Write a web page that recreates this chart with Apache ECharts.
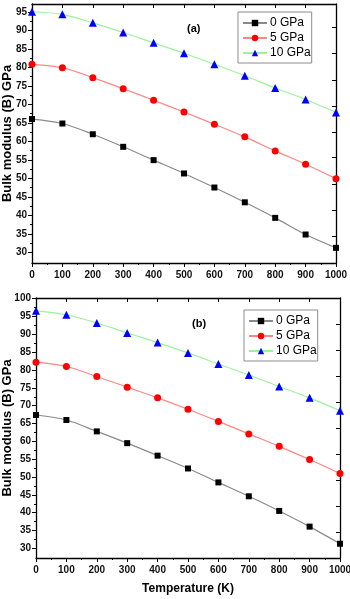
<!DOCTYPE html>
<html>
<head>
<meta charset="utf-8">
<script src="https://cdn.jsdelivr.net/npm/echarts@6/dist/echarts.min.js"></script>
<style>
html, body { margin: 0; padding: 0; background: #fff; }
#main { width: 350px; height: 599px; }
</style>
</head>
<body>
<div id="main"></div>
<script>
var temps = [0, 100, 200, 300, 400, 500, 600, 700, 800, 900, 1000];
var names = ['0 GPa', '5 GPa', '10 GPa'];

// panel (a)
var a0 = [66.0, 64.8, 61.9, 58.5, 54.9, 51.3, 47.5, 43.5, 39.3, 34.8, 31.2];
var a5 = [80.8, 79.9, 77.2, 74.2, 71.1, 67.9, 64.6, 61.2, 57.4, 53.8, 49.9];
var a10 = [95.0, 94.3, 92.0, 89.4, 86.6, 83.8, 80.8, 77.7, 74.4, 71.3, 67.8];
var yTicksA = [30, 35, 40, 45, 50, 55, 60, 65, 70, 75, 80, 85, 90, 95];
var yMinorA = [32.5, 37.5, 42.5, 47.5, 52.5, 57.5, 62.5, 67.5, 72.5, 77.5, 82.5, 87.5, 92.5];
var rightTicksA = [90.7, 83.8, 76.5, 69.5, 62.4, 55.6, 48.4, 41.4, 34.4];

// panel (b)
var b0 = [67.4, 66.0, 62.8, 59.5, 56.0, 52.4, 48.5, 44.6, 40.5, 36.1, 31.3];
var b5 = [82.2, 81.0, 78.2, 75.2, 72.2, 69.0, 65.6, 62.1, 58.6, 54.9, 51.0];
var b10 = [96.6, 95.5, 93.2, 90.4, 87.7, 84.8, 81.7, 78.6, 75.4, 72.2, 68.6];
var yTicksB = [30, 35, 40, 45, 50, 55, 60, 65, 70, 75, 80, 85, 90, 95, 100];
var yMinorB = [32.5, 37.5, 42.5, 47.5, 52.5, 57.5, 62.5, 67.5, 72.5, 77.5, 82.5, 87.5, 92.5, 97.5];
var rightTicksB = [92.8, 85.5, 78.2, 71.0, 63.8, 56.4, 49.1, 41.8, 34.6];

var FONT = 'Liberation Sans';
var option = {
    animation: false,
    backgroundColor: '#fff',
    grid: [],
    xAxis: [],
    yAxis: [],
    series: [],
    legend: [],
    title: []
};

function pairs(arr) {
    return temps.map(function (t, i) { return [t, arr[i]]; });
}

function addPanel(g, box, lo, hi, ticks, minor, right, d0, d5, d10, xName, yGap, tag, tagPos, legendPos) {
    option.grid.push({ left: box[0], top: box[1], width: box[2], height: box[3], outerBoundsMode: 'none' });
    var line = { show: true, onZero: false, lineStyle: { color: '#000', width: 1.3 } };
    option.xAxis.push({
        type: 'value', gridIndex: g, position: 'bottom', min: 0, max: 1000, interval: 100,
        axisLine: line,
        axisTick: { inside: false, length: 4, lineStyle: { color: '#000' } },
        minorTick: { show: true, splitNumber: 2, length: 2, lineStyle: { color: '#000' } },
        axisLabel: {
            margin: 7, color: '#111', fontFamily: FONT, fontWeight: 'bold', fontSize: 10,
            formatter: function (v) { return String(v); }
        },
        splitLine: { show: false },
        name: xName, nameLocation: 'middle', nameGap: 25,
        nameTextStyle: { color: '#000', fontFamily: FONT, fontWeight: 'bold', fontSize: 12 }
    });
    option.xAxis.push({
        type: 'value', gridIndex: g, position: 'top', min: 0, max: 1000, interval: 100,
        axisLine: line,
        axisTick: { inside: true, length: 4, lineStyle: { color: '#000' } },
        axisLabel: { show: false },
        splitLine: { show: false }
    });
    option.yAxis.push({
        type: 'value', gridIndex: g, position: 'left', min: lo, max: hi,
        axisLine: line,
        axisTick: { inside: false, length: 4, customValues: ticks, lineStyle: { color: '#000' } },
        axisLabel: { margin: 5, customValues: ticks, color: '#111', fontFamily: FONT, fontWeight: 'bold', fontSize: 10 },
        splitLine: { show: false },
        name: 'Bulk modulus (B) GPa', nameLocation: 'middle', nameGap: yGap, nameRotate: 90,
        nameMoveOverlap: false,
        nameTextStyle: { color: '#000', fontFamily: FONT, fontWeight: 'bold', fontSize: 13 }
    });
    option.yAxis.push({
        type: 'value', gridIndex: g, position: 'left', min: lo, max: hi,
        axisLine: { show: false },
        axisTick: { inside: false, length: 2, customValues: minor, lineStyle: { color: '#000' } },
        axisLabel: { show: false },
        splitLine: { show: false }
    });
    option.yAxis.push({
        type: 'value', gridIndex: g, position: 'right', min: lo, max: hi,
        axisLine: line,
        axisTick: { inside: true, length: 4, customValues: right, lineStyle: { color: '#000' } },
        axisLabel: { show: false },
        splitLine: { show: false }
    });
    var xi = g * 2, yi = g * 3;
    var sets = [
        { data: d0, symbol: 'rect', size: 6, line: '#8a8a8a', fill: '#000' },
        { data: d5, symbol: 'circle', size: 7, line: '#ff8585', fill: '#ff0000' },
        { data: d10, symbol: 'triangle', size: 8, line: '#9cf29c', fill: '#0000ff' }
    ];
    for (var i = 0; i < sets.length; i++) {
        option.series.push({
            name: names[i], type: 'line', xAxisIndex: xi, yAxisIndex: yi,
            data: pairs(sets[i].data), smooth: 0.3, clip: false,
            symbol: sets[i].symbol, symbolSize: sets[i].size,
            lineStyle: { color: sets[i].line, width: 1.2 },
            itemStyle: { color: sets[i].fill, borderWidth: 0 }
        });
    }
    option.legend.push({
        data: names, orient: 'vertical', left: legendPos[0], top: legendPos[1],
        itemWidth: 24, itemHeight: 8, itemGap: 3,
        padding: [5, 1, 4, 4],
        borderColor: '#8c8c8c', borderWidth: 1, borderRadius: 0,
        textStyle: { color: '#000', fontFamily: FONT, fontSize: 12, padding: [0, 0, 0, -2] }
    });
    option.title.push({
        text: tag, left: tagPos[0], top: tagPos[1], padding: 0,
        textStyle: { color: '#000', fontFamily: FONT, fontWeight: 'bold', fontSize: 11 }
    });
}

window.onload = function () {
    addPanel(0, [32, 4, 304, 259], 27.1, 97.1, yTicksA, yMinorA, rightTicksA, a0, a5, a10, '', 18, '(a)', [187, 23], [238, 12]);
    addPanel(1, [36, 298, 304, 260], 27.3, 100.2, yTicksB, yMinorB, rightTicksB, b0, b5, b10, 'Temperature (K)', 22, '(b)', [192, 318], [244, 310]);
    var myChart = echarts.init(document.getElementById('main'));
    myChart.setOption(option);
};
</script>
</body>
</html>
